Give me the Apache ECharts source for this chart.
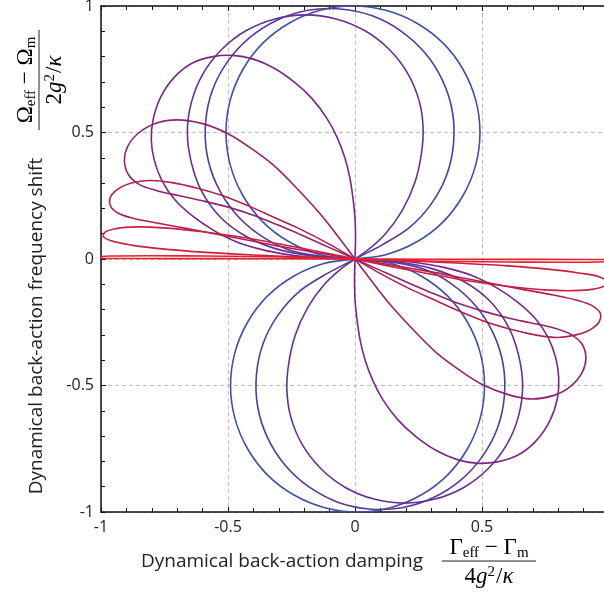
<!DOCTYPE html>
<html>
<head>
<meta charset="utf-8">
<script src="https://cdn.jsdelivr.net/npm/echarts@6/dist/echarts.min.js"></script>
<style>
html,body{margin:0;padding:0;background:#fff;}
#chart{width:604px;height:595px;}
</style>
</head>
<body>
<div id="chart"></div>
<script>
// ---- data (x = damping, y = frequency shift) ----
const xAxisRange = [-1, 1];
const yAxisRange = [-1, 1];
const tickStep = 0.5;

const curve1Upper = [[0,0],[0.121,0.017],[0.242,0.067],[0.346,0.146],[0.425,0.25],[0.475,0.371],[0.492,0.5],[0.475,0.629],[0.425,0.75],[0.346,0.854],[0.242,0.933],[0.121,0.983],[-0.008,1.0],[-0.137,0.983],[-0.258,0.933],[-0.362,0.854],[-0.441,0.75],[-0.491,0.629],[-0.508,0.5],[-0.491,0.371],[-0.441,0.25],[-0.362,0.146],[-0.258,0.067],[-0.137,0.017],[0,0]];
const curve1Lower = [[0.139,-0.017],[0.26,-0.067],[0.364,-0.146],[0.443,-0.25],[0.493,-0.371],[0.51,-0.5],[0.493,-0.629],[0.443,-0.75],[0.364,-0.854],[0.26,-0.933],[0.139,-0.983],[0.01,-1.0],[-0.119,-0.983],[-0.24,-0.933],[-0.344,-0.854],[-0.423,-0.75],[-0.473,-0.629],[-0.49,-0.5],[-0.473,-0.371],[-0.423,-0.25],[-0.344,-0.146],[-0.24,-0.067],[-0.119,-0.017],[0,0]];

const curve2Upper = [[0,0],[0.107,0.056],[0.215,0.125],[0.301,0.219],[0.361,0.332],[0.388,0.457],[0.383,0.585],[0.344,0.707],[0.275,0.815],[0.181,0.901],[0.068,0.961],[-0.057,0.988],[-0.185,0.983],[-0.307,0.944],[-0.415,0.875],[-0.501,0.781],[-0.561,0.668],[-0.588,0.543],[-0.583,0.415],[-0.544,0.293],[-0.475,0.185],[-0.381,0.099],[-0.268,0.039],[-0.143,0.012],[0,0]];
const curve2Lower = [[0.143,-0.012],[0.268,-0.039],[0.381,-0.099],[0.475,-0.185],[0.544,-0.293],[0.583,-0.415],[0.588,-0.543],[0.561,-0.668],[0.501,-0.781],[0.415,-0.875],[0.307,-0.944],[0.185,-0.983],[0.057,-0.988],[-0.068,-0.961],[-0.181,-0.901],[-0.275,-0.815],[-0.344,-0.707],[-0.383,-0.585],[-0.388,-0.457],[-0.361,-0.332],[-0.301,-0.219],[-0.215,-0.125],[-0.107,-0.056],[0,0]];

const curve3Upper = [[0,0],[0.05,0.035],[0.12,0.1],[0.185,0.19],[0.235,0.3],[0.262,0.42],[0.268,0.52],[0.254,0.62],[0.208,0.733],[0.134,0.829],[0.038,0.903],[-0.075,0.949],[-0.195,0.965],[-0.315,0.949],[-0.428,0.903],[-0.524,0.829],[-0.598,0.733],[-0.644,0.62],[-0.66,0.5],[-0.644,0.38],[-0.605,0.27],[-0.53,0.165],[-0.43,0.09],[-0.31,0.04],[-0.17,0.012],[0,0]];
const curve3Lower = [[0.17,-0.012],[0.31,-0.04],[0.43,-0.09],[0.53,-0.165],[0.605,-0.27],[0.644,-0.38],[0.66,-0.5],[0.644,-0.62],[0.598,-0.733],[0.524,-0.829],[0.428,-0.903],[0.315,-0.949],[0.195,-0.965],[0.075,-0.949],[-0.038,-0.903],[-0.134,-0.829],[-0.208,-0.733],[-0.254,-0.62],[-0.268,-0.52],[-0.262,-0.42],[-0.235,-0.3],[-0.185,-0.19],[-0.12,-0.1],[-0.05,-0.035],[0,0]];

const curve4Upper = [[0,0],[0.002,0.08],[0,0.16],[-0.008,0.24],[-0.02,0.32],[-0.04,0.4],[-0.07,0.48],[-0.11,0.555],[-0.17,0.635],[-0.24,0.7],[-0.32,0.755],[-0.4,0.79],[-0.48,0.805],[-0.56,0.8],[-0.64,0.775],[-0.71,0.72],[-0.765,0.64],[-0.795,0.55],[-0.802,0.47],[-0.79,0.39],[-0.76,0.31],[-0.71,0.235],[-0.64,0.17],[-0.56,0.115],[-0.46,0.065],[-0.35,0.033],[-0.23,0.013],[-0.11,0.003],[0,0]];
const curve4Lower = [[0.11,-0.003],[0.23,-0.013],[0.35,-0.033],[0.46,-0.065],[0.56,-0.115],[0.64,-0.17],[0.71,-0.235],[0.76,-0.31],[0.79,-0.39],[0.802,-0.47],[0.797,-0.55],[0.767,-0.64],[0.712,-0.72],[0.642,-0.775],[0.56,-0.802],[0.475,-0.807],[0.4,-0.792],[0.32,-0.757],[0.24,-0.702],[0.17,-0.637],[0.11,-0.557],[0.07,-0.48],[0.04,-0.4],[0.02,-0.32],[0.008,-0.24],[0,-0.16],[-0.002,-0.08],[0,0]];

const curve5Upper = [[0,0],[-0.06,0.08],[-0.13,0.17],[-0.22,0.27],[-0.32,0.37],[-0.42,0.445],[-0.5,0.495],[-0.6,0.535],[-0.7,0.55],[-0.78,0.538],[-0.85,0.5],[-0.895,0.445],[-0.908,0.39],[-0.893,0.335],[-0.85,0.295],[-0.78,0.27],[-0.69,0.25],[-0.6,0.23],[-0.5,0.205],[-0.4,0.173],[-0.3,0.133],[-0.2,0.09],[-0.1,0.045],[0,0]];
const curve5Lower = [[0.1,-0.045],[0.2,-0.09],[0.3,-0.133],[0.4,-0.173],[0.5,-0.205],[0.6,-0.232],[0.69,-0.252],[0.78,-0.272],[0.85,-0.298],[0.895,-0.338],[0.909,-0.392],[0.895,-0.447],[0.85,-0.502],[0.78,-0.54],[0.69,-0.553],[0.6,-0.535],[0.505,-0.498],[0.42,-0.445],[0.32,-0.37],[0.22,-0.27],[0.13,-0.17],[0.06,-0.08],[0,0]];

const curve6Upper = [[0,0],[-0.1,0.058],[-0.22,0.12],[-0.32,0.165],[-0.42,0.21],[-0.52,0.25],[-0.62,0.28],[-0.72,0.302],[-0.81,0.31],[-0.88,0.3],[-0.935,0.275],[-0.965,0.24],[-0.96,0.205],[-0.93,0.18],[-0.87,0.16],[-0.78,0.142],[-0.66,0.12],[-0.54,0.097],[-0.42,0.074],[-0.3,0.051],[-0.15,0.025],[0,0]];
const curve6Lower = [[0.15,-0.025],[0.3,-0.051],[0.42,-0.074],[0.54,-0.097],[0.66,-0.12],[0.78,-0.142],[0.87,-0.162],[0.935,-0.185],[0.966,-0.215],[0.96,-0.25],[0.925,-0.28],[0.87,-0.3],[0.8,-0.31],[0.72,-0.302],[0.62,-0.28],[0.52,-0.25],[0.42,-0.21],[0.32,-0.165],[0.22,-0.12],[0.1,-0.058],[0,0]];

const curve7Upper = [[0,0],[-0.15,0.031],[-0.3,0.06],[-0.45,0.087],[-0.6,0.108],[-0.74,0.122],[-0.86,0.127],[-0.94,0.12],[-0.985,0.105],[-0.99,0.088],[-0.96,0.072],[-0.88,0.055],[-0.76,0.04],[-0.6,0.027],[-0.42,0.017],[-0.22,0.008],[0,0]];
const curve7Lower = [[0.22,-0.008],[0.42,-0.017],[0.6,-0.027],[0.76,-0.04],[0.88,-0.055],[0.96,-0.07],[0.99,-0.087],[0.985,-0.104],[0.94,-0.119],[0.86,-0.125],[0.744,-0.122],[0.6,-0.108],[0.45,-0.087],[0.3,-0.06],[0.15,-0.031],[0,0]];

const curve8Upper = [[0,0],[-0.2,0.006],[-0.4,0.01],[-0.6,0.012],[-0.8,0.013],[-0.95,0.012],[-1.01,0.009],[-1.02,0.006],[-1.0,0.003],[-0.9,0.002],[-0.6,0.0015],[-0.3,0.001],[0,0]];
const curve8Lower = [[0.3,-0.001],[0.6,-0.0015],[0.9,-0.002],[1.0,-0.003],[1.02,-0.006],[1.01,-0.009],[0.95,-0.012],[0.8,-0.013],[0.6,-0.012],[0.4,-0.01],[0.2,-0.006],[0,0]];

const curveColors = ['#3d52a6','#57399b','#682f93','#7a2787','#922374','#b01f57','#cc1f41','#e6202d'];
const curves = [
  curve1Upper.concat(curve1Lower),
  curve2Upper.concat(curve2Lower),
  curve3Upper.concat(curve3Lower),
  curve4Upper.concat(curve4Lower),
  curve5Upper.concat(curve5Lower),
  curve6Upper.concat(curve6Lower),
  curve7Upper.concat(curve7Lower),
  curve8Upper.concat(curve8Lower)
];

const xTitle = 'Dynamical back-action damping';
const yTitle = 'Dynamical back-action frequency shift';

// ---- chart ----
const chart = echarts.init(document.getElementById('chart'), null, {renderer: 'canvas'});
const labelFont = {fontFamily: 'Open Sans', fontSize: 16, color: '#222'};

function axisBase(pos, showLabel, range) {
  return {
    type: 'value', position: pos, min: range[0], max: range[1], interval: tickStep,
    axisLine: {show: true, onZero: false, lineStyle: {color: '#111', width: 1.5}},
    axisTick: {show: true, inside: true, length: 5, lineStyle: {color: '#111', width: 1}},
    minorTick: {show: true, splitNumber: 5, length: 4, lineStyle: {color: '#111', width: 1}},
    axisLabel: Object.assign({show: showLabel, margin: 7}, labelFont),
    splitLine: {show: showLabel, lineStyle: {color: '#bdbdbd', width: 1, type: [4, 3]}}
  };
}

// closed centripetal Catmull-Rom spline through the data points (pixel space)
function splinePath(px) {
  const n = px.length;
  const P = i => px[((i % n) + n) % n];
  const dist = (a, b) => Math.sqrt(Math.hypot(b[0] - a[0], b[1] - a[1]));
  let d = 'M' + px[0][0].toFixed(2) + ' ' + px[0][1].toFixed(2);
  for (let i = 0; i < n; i++) {
    const p0 = P(i - 1), p1 = P(i), p2 = P(i + 1), p3 = P(i + 2);
    const d1 = dist(p0, p1), d2 = dist(p1, p2), d3 = dist(p2, p3);
    let c1 = p1, c2 = p2;
    if (d1 > 1e-6 && d2 > 1e-6) {
      c1 = [0, 1].map(k => (d1 * d1 * p2[k] - d2 * d2 * p0[k] + (2 * d1 * d1 + 3 * d1 * d2 + d2 * d2) * p1[k]) / (3 * d1 * (d1 + d2)));
    }
    if (d3 > 1e-6 && d2 > 1e-6) {
      c2 = [0, 1].map(k => (d3 * d3 * p1[k] - d2 * d2 * p3[k] + (2 * d3 * d3 + 3 * d3 * d2 + d2 * d2) * p2[k]) / (3 * d3 * (d3 + d2)));
    }
    d += 'C' + c1[0].toFixed(2) + ' ' + c1[1].toFixed(2) + ' ' + c2[0].toFixed(2) + ' ' + c2[1].toFixed(2) + ' ' + p2[0].toFixed(2) + ' ' + p2[1].toFixed(2);
  }
  return d;
}

const series = curves.map((pts, ci) => ({
  type: 'custom', coordinateSystem: 'cartesian2d', clip: true, silent: true,
  data: pts, encode: {x: 0, y: 1},
  renderItem: function (params, api) {
    if (params.dataIndex !== 0) return null;
    const loop = pts.slice(0, pts.length - 1).map(p => api.coord(p));
    return {
      type: 'path',
      shape: {pathData: splinePath(loop)},
      style: {fill: 'none', stroke: curveColors[ci], lineWidth: 1.6}
    };
  }
}));

const mathFont = "'Liberation Serif', 'DejaVu Serif', serif";
const rich = {
  g: {fontFamily: mathFont, fontSize: 23, color: '#222'},
  s: {fontFamily: mathFont, fontSize: 15, color: '#222', verticalAlign: 'bottom', padding: [10, 0, 0, 0]},
  i: {fontFamily: mathFont, fontSize: 23, fontStyle: 'italic', color: '#222'},
  sup: {fontFamily: mathFont, fontSize: 15, color: '#222', verticalAlign: 'top', padding: [0, 1, 9, 0]}
};

function fraction(cx, cy, rot, num, den, half) {
  return {
    type: 'group', x: cx, y: cy, rotation: rot,
    children: [
      {type: 'text', x: 0, y: -13, style: {text: num, rich: rich, align: 'center', verticalAlign: 'middle'}},
      {type: 'line', shape: {x1: -half, y1: 0, x2: half, y2: 0}, style: {stroke: '#222', lineWidth: 1}},
      {type: 'text', x: 0, y: 16, style: {text: den, rich: rich, align: 'center', verticalAlign: 'middle'}}
    ]
  };
}

chart.setOption({
  animation: false,
  grid: {left: 101, top: 6, width: 508, height: 506, containLabel: false, outerBoundsMode: 'none'},
  xAxis: [axisBase('bottom', true, xAxisRange), axisBase('top', false, xAxisRange)],
  yAxis: [axisBase('left', true, yAxisRange), axisBase('right', false, yAxisRange)],
  series: series,
  graphic: [
    {type: 'text', x: 282, y: 562, style: {text: xTitle, fontFamily: 'Open Sans', fontSize: 19, fill: '#222', align: 'center', verticalAlign: 'middle'}},
    {type: 'text', x: 37, y: 326, rotation: Math.PI / 2, style: {text: yTitle, fontFamily: 'Open Sans', fontSize: 19, fill: '#222', align: 'center', verticalAlign: 'middle'}},
    fraction(489, 561, 0, '{g|Γ}{s|eff}{g| − Γ}{s|m}', '{g|4}{i|g}{sup|2}{g|/}{i|κ}', 47),
    fraction(39, 80, Math.PI / 2, '{g|Ω}{s|eff}{g| − Ω}{s|m}', '{g|2}{i|g}{sup|2}{g|/}{i|κ}', 50)
  ]
});
</script>
</body>
</html>
